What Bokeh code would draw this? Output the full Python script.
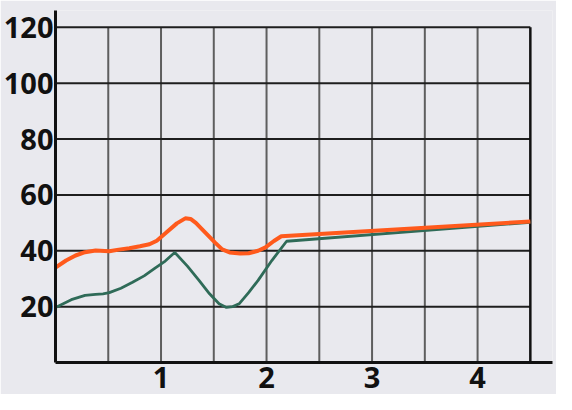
from bokeh.plotting import figure
from bokeh.embed import file_html
from bokeh.resources import INLINE
from bokeh.models import Range1d, FixedTicker

# ---- data ----
orange_x = [0, 0.1, 0.19, 0.28, 0.38, 0.51, 0.60, 0.70, 0.80, 0.89, 0.96, 1.05, 1.15, 1.23, 1.28, 1.33,
            1.42, 1.51, 1.58, 1.65, 1.75, 1.83, 1.92, 1.99, 2.07, 2.14, 4.5]
orange_y = [34, 36.5, 38.3, 39.5, 40.1, 39.8, 40.4, 40.9, 41.6, 42.3, 43.6, 46.5, 49.8, 51.6, 51.4, 50,
            46.5, 43, 40.5, 39.4, 39, 39.1, 40, 41.2, 43.5, 45.2, 50.5]

green_x = [0, 0.15, 0.28, 0.38, 0.45, 0.51, 0.62, 0.73, 0.84, 0.94, 1.04, 1.13, 1.25, 1.36, 1.46, 1.55,
           1.62, 1.68, 1.74, 1.83, 1.92, 2.05, 2.19, 4.5]
green_y = [19.7, 22.5, 24, 24.4, 24.6, 25, 26.6, 28.7, 31, 33.7, 36.3, 39.4, 34.5, 29.4, 24.6, 21,
           19.7, 20, 21, 25, 29.4, 36.5, 43.4, 50.2]

x_ticks = [1, 2, 3, 4]
y_ticks = [20, 40, 60, 80, 100, 120]
x_grid = [0.5, 1, 1.5, 2, 2.5, 3, 3.5, 4]
x_border = 4.5
y_top = 120

BG = "#e9e9ee"

p = figure(width=556, height=394, output_backend="svg", toolbar_location=None,
           x_range=Range1d(0, 4.71), y_range=Range1d(0, 126),
           background_fill_color=BG, border_fill_color=BG,
           min_border_top=10, min_border_right=4, min_border_bottom=32, min_border_left=0)
p.outline_line_color = None
p.xgrid.visible = False
p.ygrid.visible = False

# grid lines drawn from tick lists
p.segment(x0=x_grid, x1=x_grid, y0=[0] * len(x_grid), y1=[y_top] * len(x_grid),
          line_color="#5e5e5e", line_width=2)
p.segment(x0=[0] * len(y_ticks), x1=[x_border] * len(y_ticks), y0=y_ticks, y1=y_ticks,
          line_color="#1e1e1e", line_width=2)
p.segment(x0=[x_border], x1=[x_border], y0=[0], y1=[y_top], line_color="#111111", line_width=2.5)

p.line(green_x, green_y, line_color="#2f6b58", line_width=2.8)
p.line(orange_x, orange_y, line_color="#ff5a1c", line_width=4)

for ax in (p.xaxis[0], p.yaxis[0]):
    ax.axis_line_color = "#111111"
    ax.axis_line_width = 3
    ax.major_tick_out = 0
    ax.major_tick_in = 0
    ax.minor_tick_out = 0
    ax.minor_tick_in = 0
    ax.major_label_text_font = "Open Sans"
    ax.major_label_text_font_style = "bold"
    ax.major_label_text_color = "#111111"

p.xaxis.ticker = FixedTicker(ticks=x_ticks)
p.yaxis.ticker = FixedTicker(ticks=y_ticks)
p.xaxis.major_label_text_font_size = "29px"
p.yaxis.major_label_text_font_size = "29px"
p.xaxis.major_label_standoff = 4
p.yaxis.major_label_standoff = 2

open("out.html", "w").write(file_html(p, INLINE))
